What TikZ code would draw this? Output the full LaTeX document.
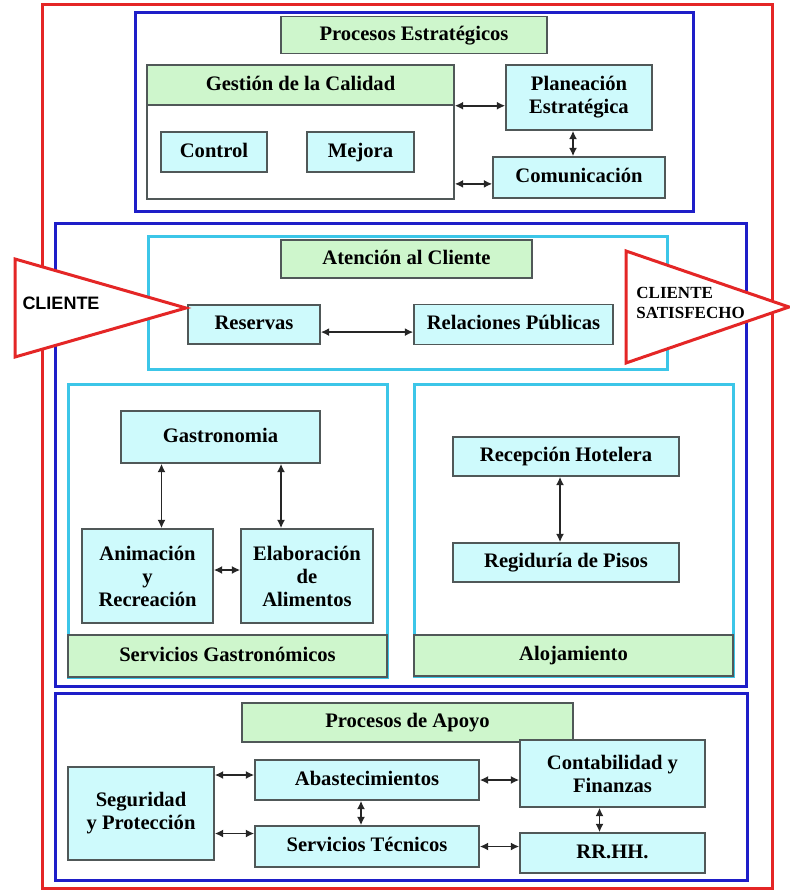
\documentclass[tikz,border=0pt]{standalone}
\usepackage{fontspec}
\setmainfont{Liberation Serif}
\newfontfamily\clifont{Liberation Sans}
\usepackage{tikz}
\usetikzlibrary{arrows.meta,positioning}
\definecolor{framered}{RGB}{228,38,38}
\definecolor{zoneblue}{RGB}{30,30,200}
\definecolor{areacyan}{RGB}{60,198,232}
\definecolor{boxfill}{RGB}{206,250,252}
\definecolor{headfill}{RGB}{206,246,204}
\definecolor{boxline}{RGB}{80,88,88}

\begin{document}
\begin{tikzpicture}[
  x=0.5pt, y=-0.5pt,
  font=\bfseries\fontsize{10.3}{11.5}\selectfont,
  frame/.style={draw=framered, line width=1.5pt},
  zone/.style={draw=zoneblue, line width=1.5pt},
  area/.style={draw=areacyan, line width=1.5pt},
  proc/.style={rectangle, draw=boxline, fill=boxfill, line width=0.75pt,
               align=center, inner sep=2pt},
  head/.style={proc, fill=headfill},
  single/.style={text height=1.6ex, text depth=0.45ex},
  link/.style={{Latex[length=4.2pt,width=4pt]}-{Latex[length=4.2pt,width=4pt]},
               line width=0.8pt, black!85},
  entry/.style={draw=framered, line width=1.5pt, fill=white, line join=miter}
]
\useasboundingbox (0,0) rectangle (790,892);

% frames
\draw[frame] (42,5) rectangle (772,888);
\draw[zone] (135,13) rectangle (693,212);
\draw[zone] (55,224) rectangle (746,686);
\draw[zone] (55,693) rectangle (747,880);
\draw[area] (148,237) rectangle (667,370);
\draw[area] (68,384) rectangle (387,677);
\draw[area] (414,384) rectangle (733,676);

% procesos estrategicos
\node[head, single, minimum width=133pt, minimum height=18.5pt] (pe) at (414,35) {Procesos Estratégicos};
\node[proc, fill=white, minimum width=153.5pt, minimum height=67pt] (gcbox) at (300.5,132) {};
\node[head, single, minimum width=153.5pt, minimum height=20pt] (gc) at (300.5,85) {Gestión de la Calidad};
\node[proc, single, minimum width=53pt, minimum height=20pt] (ctrl) at (214,152) {Control};
\node[proc, single, minimum width=53.5pt, minimum height=20pt] (mej) at (360.5,152) {Mejora};
\node[proc, minimum width=73pt, minimum height=32.5pt] (plan) at (579,97.5) {Planeación\\Estratégica};
\node[proc, single, minimum width=86pt, minimum height=20.5pt] (com) at (579,177.5) {Comunicación};
\draw[link] (gcbox.east |- gc.south) -- (plan.west |- gc.south);
\draw[link] ([xshift=-3pt]plan.south) -- ([xshift=-3pt]plan.south |- com.north);
\draw[link] ([yshift=-3.2pt]com.west) -- ([yshift=-3.2pt]com.west -| gcbox.east);

% atencion al cliente
\node[head, single, minimum width=125.5pt, minimum height=19pt] (ac) at (406.5,259) {Atención al Cliente};
\node[proc, single, minimum width=66pt, minimum height=19.5pt] (res) at (254,324.5) {Reservas};
\node[proc, single, minimum width=99.5pt, minimum height=20pt] (rp) at (513.5,324.5) {Relaciones Públicas};
\draw[link] ([yshift=-3.8pt]res.east) -- ([yshift=-3.8pt]res.east -| rp.west);

% servicios gastronomicos
\node[proc, single, minimum width=99.5pt, minimum height=26pt] (gas) at (220.5,437) {Gastronomia};
\node[proc, minimum width=65.5pt, minimum height=47pt] (ani) at (147.5,576) {Animación\\y\\Recreación};
\node[proc, minimum width=66pt, minimum height=47pt] (ela) at (307,576) {Elaboración\\de\\Alimentos};
\node[head, single, minimum width=159.5pt, minimum height=21pt] (sg) at (227.5,656) {Servicios Gastronómicos};
\draw[link] ([xshift=7pt]ani.north) -- ([xshift=7pt]ani.north |- gas.south);
\draw[link] ([xshift=-13pt]ela.north) -- ([xshift=-13pt]ela.north |- gas.south);
\draw[link] ([yshift=3pt]ani.east) -- ([yshift=3pt]ela.west);

% alojamiento
\node[proc, single, minimum width=113pt, minimum height=19.5pt] (rec) at (566,456.5) {Recepción Hotelera};
\node[proc, single, minimum width=113pt, minimum height=19.5pt] (reg) at (566,562.5) {Regiduría de Pisos};
\node[head, single, minimum width=159.5pt, minimum height=20.5pt] (al) at (573.5,655.5) {Alojamiento};
\draw[link] ([xshift=-3pt]rec.south) -- ([xshift=-3pt]reg.north);

% procesos de apoyo
\node[head, single, minimum width=165.5pt, minimum height=19.5pt] (pa) at (407.5,722.5) {Procesos de Apoyo};
\node[proc, minimum width=73pt, minimum height=46.5pt] (seg) at (141,813.5) {Seguridad\\y Protección};
\node[proc, single, minimum width=112pt, minimum height=20pt] (aba) at (367,780) {Abastecimientos};
\node[proc, single, minimum width=112pt, minimum height=20.5pt] (st) at (367,846.5) {Servicios Técnicos};
\node[proc, minimum width=92.5pt, minimum height=33.5pt] (con) at (612.5,773.5) {Contabilidad y\\Finanzas};
\node[proc, single, minimum width=92.5pt, minimum height=20pt] (rh) at (612.5,853) {RR.HH.};
\draw[link] ([yshift=2.5pt]aba.west) -- ([yshift=2.5pt]aba.west -| seg.east);
\draw[link] ([yshift=6.5pt]st.west) -- ([yshift=6.5pt]st.west -| seg.east);
\draw[link] (aba.east) -- (aba.east -| con.west);
\draw[link] (st.east) -- (st.east -| rh.west);
\draw[link] ([xshift=-3pt]aba.south) -- ([xshift=-3pt]st.north);
\draw[link] ([xshift=-6.5pt]con.south) -- ([xshift=-6.5pt]rh.north);

% cliente
\draw[entry] (15,259) -- (186,308) -- (15,357) -- cycle;
\node[font=\clifont\bfseries\fontsize{9}{10}\selectfont] (cli) at (61,303) {CLIENTE};
\draw[entry] (626,251) -- (789,307) -- (626,363) -- cycle;
\node[font=\bfseries\fontsize{8.5}{10}\selectfont, align=left, anchor=west, inner sep=0pt] (sat) at (636,303) {CLIENTE\\SATISFECHO};
\end{tikzpicture}
\end{document}
